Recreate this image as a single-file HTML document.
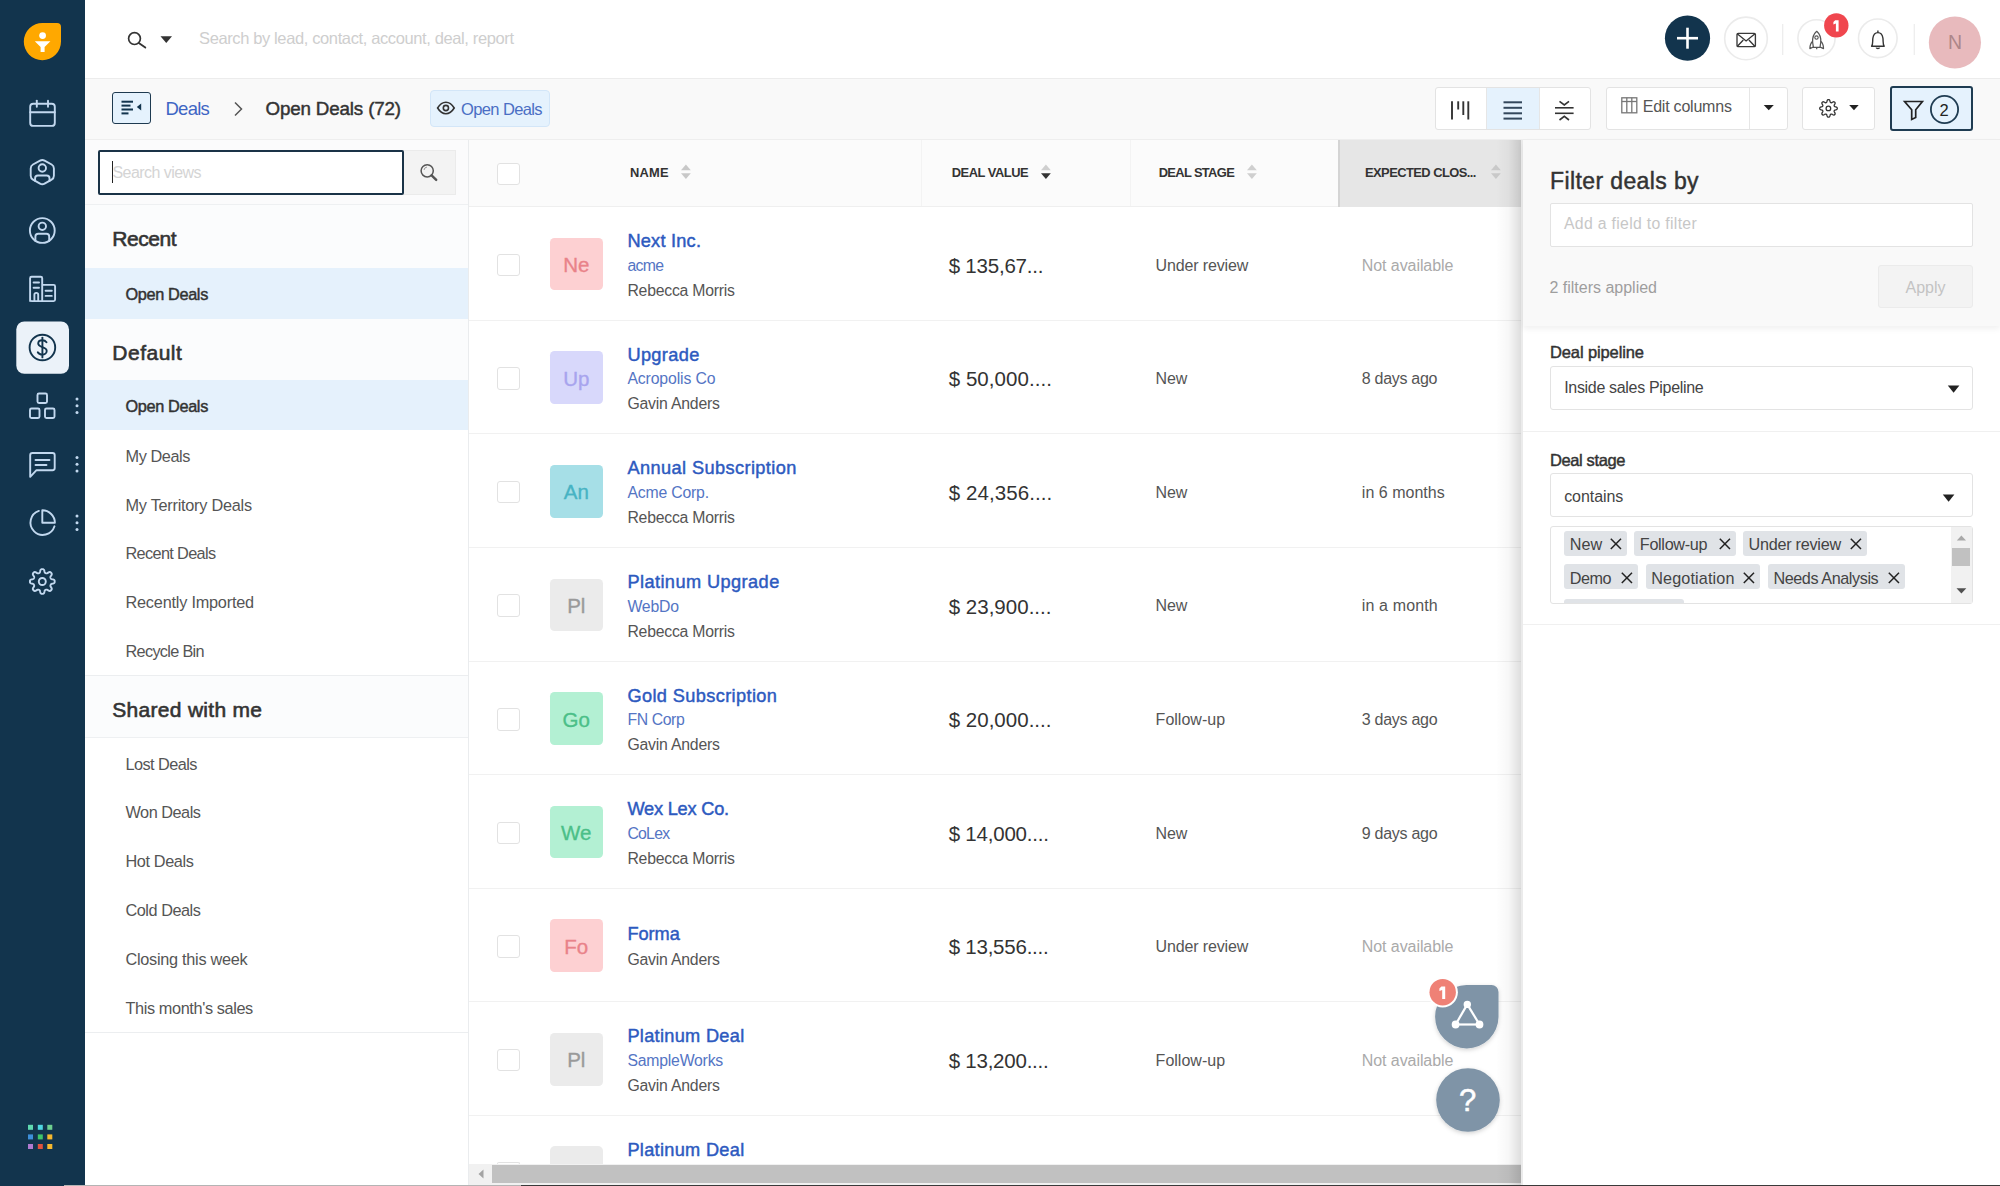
<!DOCTYPE html>
<html><head><meta charset="utf-8">
<style>
*{box-sizing:border-box;margin:0;padding:0}
html,body{width:2000px;height:1186px;overflow:hidden;background:#fff;font-family:"Liberation Sans",sans-serif;color:#333}
.a{position:absolute}
.nav{left:0;top:0;width:85px;height:1186px;background:#12344d}
.t{position:absolute;white-space:nowrap;line-height:1}
svg.a{overflow:visible}
</style></head><body>
<!-- LEFT NAV -->
<div class="a nav">
<svg width="85" height="1186" viewBox="0 0 85 1186" style="left:0;top:0">
 <!-- logo -->
 <path d="M42.7 23 H57 a4 4 0 0 1 4 4 V41.6 A18.6 18.6 0 1 1 42.7 23 Z" fill="#ffa800"/>
 <circle cx="42.6" cy="35.6" r="3.4" fill="#fff"/>
 <path d="M34.8 41.2 H50.4 L44.6 47 V52 H40.6 V47 Z" fill="#fff"/>
 <g fill="none" stroke="#c2d8ef" stroke-width="1.9" stroke-linecap="round" stroke-linejoin="round">
  <!-- calendar -->
  <rect x="30.2" y="103.7" width="24.6" height="22.2" rx="3"/>
  <line x1="30.2" y1="112.2" x2="54.8" y2="112.2"/>
  <line x1="36.8" y1="100.6" x2="36.8" y2="106.8"/>
  <line x1="48" y1="100.6" x2="48" y2="106.8"/>
  <!-- contact hexagon -->
  <path d="M40.03 160.57 Q42.30 159.30 44.57 160.57 L51.63 164.53 Q53.90 165.80 53.90 168.40 L53.90 175.80 Q53.90 178.40 51.63 179.67 L44.57 183.63 Q42.30 184.90 40.03 183.63 L32.97 179.67 Q30.70 178.40 30.70 175.80 L30.70 168.40 Q30.70 165.80 32.97 164.53 Z"/>
  <circle cx="42.3" cy="168" r="3.7"/>
  <path d="M35.1 180.9 V178.2 Q35.1 175.5 37.9 175.5 H46.7 Q49.5 175.5 49.5 178.2 V180.9"/>
  <!-- person circle -->
  <circle cx="42.3" cy="230.5" r="12.4"/>
  <circle cx="42.3" cy="226.3" r="3.7"/>
  <path d="M35.4 240.9 V236.6 Q35.4 233.8 38.2 233.8 H46.4 Q49.2 233.8 49.2 236.6 V240.9"/>
  <!-- building -->
  <path d="M30.1 301.1 V278.2 Q30.1 276.7 31.6 276.7 H40.7 Q42.2 276.7 42.2 278.2 V301.1 M42.2 284.9 H53.6 Q55.1 284.9 55.1 286.4 V299.6 Q55.1 301.1 53.6 301.1 H31.6 Q30.1 301.1 30.1 299.6"/>
  <line x1="33.6" y1="282.5" x2="39" y2="282.5"/>
  <line x1="33.6" y1="287.8" x2="39" y2="287.8"/>
  <path d="M34.4 301 V294.8 A1.9 1.9 0 0 1 38.2 294.8 V301"/>
  <line x1="45.6" y1="290.8" x2="51.8" y2="290.8"/>
  <line x1="45.6" y1="295.9" x2="51.8" y2="295.9"/>
 </g>
 <!-- active deals -->
 <rect x="16.3" y="321.4" width="52.7" height="52.4" rx="8" fill="#ebf2f9"/>
 <g fill="none" stroke="#12344d" stroke-width="1.9" stroke-linecap="round" stroke-linejoin="round">
  <circle cx="42.4" cy="347.5" r="12.8"/>
  <path d="M46.5 342.2 C45.5 340.8 44 340.3 42.3 340.3 C39.8 340.3 38.2 341.7 38.2 343.6 C38.2 348 46.7 346.3 46.7 351 C46.7 353.1 44.8 354.6 42.3 354.6 C40.3 354.6 38.6 353.8 37.8 352.3"/>
  <line x1="42.4" y1="337.6" x2="42.4" y2="357.4"/>
 </g>
 <g fill="none" stroke="#c2d8ef" stroke-width="1.9" stroke-linecap="round" stroke-linejoin="round">
  <!-- products -->
  <rect x="37.5" y="393.5" width="9.5" height="9.5" rx="1.5"/>
  <rect x="30" y="408.5" width="9.5" height="9.5" rx="1.5"/>
  <rect x="45" y="408.5" width="9.5" height="9.5" rx="1.5"/>
  <!-- chat -->
  <path d="M32.5 453 H52.5 a2.2 2.2 0 0 1 2.2 2.2 V468 a2.2 2.2 0 0 1 -2.2 2.2 H36.5 L30.2 476.8 V455.2 a2.2 2.2 0 0 1 2.2 -2.2 Z"/>
  <line x1="35.5" y1="460" x2="49.5" y2="460"/>
  <line x1="35.5" y1="465" x2="46.5" y2="465"/>
  <!-- pie -->
  <path d="M38.9 510.9 A12.3 12.3 0 1 0 54.5 526.3"/>
  <path d="M42.3 510.3 V522.8 H54.9 A12.6 12.6 0 0 0 42.3 510.3 Z"/>
  <!-- gear -->
  <circle cx="42.3" cy="581.5" r="3.5"/>
  <path d="M54.70 581.50 L54.67 581.99 L54.57 582.47 L54.33 582.92 L53.76 583.32 L52.79 583.59 L51.82 583.79 L51.24 584.02 L50.94 584.31 L50.76 584.62 L50.61 584.94 L50.49 585.28 L50.40 585.63 L50.41 586.04 L50.65 586.62 L51.20 587.44 L51.69 588.32 L51.81 589.00 L51.66 589.49 L51.39 589.91 L51.07 590.27 L50.71 590.59 L50.29 590.86 L49.80 591.01 L49.12 590.89 L48.24 590.40 L47.42 589.85 L46.84 589.61 L46.43 589.60 L46.08 589.69 L45.74 589.81 L45.42 589.96 L45.11 590.14 L44.82 590.44 L44.59 591.02 L44.39 591.99 L44.12 592.96 L43.72 593.53 L43.27 593.77 L42.79 593.87 L42.30 593.90 L41.81 593.87 L41.33 593.77 L40.88 593.53 L40.48 592.96 L40.21 591.99 L40.01 591.02 L39.78 590.44 L39.49 590.14 L39.18 589.96 L38.86 589.81 L38.52 589.69 L38.17 589.60 L37.76 589.61 L37.18 589.85 L36.36 590.40 L35.48 590.89 L34.80 591.01 L34.31 590.86 L33.89 590.59 L33.53 590.27 L33.21 589.91 L32.94 589.49 L32.79 589.00 L32.91 588.32 L33.40 587.44 L33.95 586.62 L34.19 586.04 L34.20 585.63 L34.11 585.28 L33.99 584.94 L33.84 584.62 L33.66 584.31 L33.36 584.02 L32.78 583.79 L31.81 583.59 L30.84 583.32 L30.27 582.92 L30.03 582.47 L29.93 581.99 L29.90 581.50 L29.93 581.01 L30.03 580.53 L30.27 580.08 L30.84 579.68 L31.81 579.41 L32.78 579.21 L33.36 578.98 L33.66 578.69 L33.84 578.38 L33.99 578.06 L34.11 577.72 L34.20 577.37 L34.19 576.96 L33.95 576.38 L33.40 575.56 L32.91 574.68 L32.79 574.00 L32.94 573.51 L33.21 573.09 L33.53 572.73 L33.89 572.41 L34.31 572.14 L34.80 571.99 L35.48 572.11 L36.36 572.60 L37.18 573.15 L37.76 573.39 L38.17 573.40 L38.52 573.31 L38.86 573.19 L39.18 573.04 L39.49 572.86 L39.78 572.56 L40.01 571.98 L40.21 571.01 L40.48 570.04 L40.88 569.47 L41.33 569.23 L41.81 569.13 L42.30 569.10 L42.79 569.13 L43.27 569.23 L43.72 569.47 L44.12 570.04 L44.39 571.01 L44.59 571.98 L44.82 572.56 L45.11 572.86 L45.42 573.04 L45.74 573.19 L46.08 573.31 L46.43 573.40 L46.84 573.39 L47.42 573.15 L48.24 572.60 L49.12 572.11 L49.80 571.99 L50.29 572.14 L50.71 572.41 L51.07 572.73 L51.39 573.09 L51.66 573.51 L51.81 574.00 L51.69 574.68 L51.20 575.56 L50.65 576.38 L50.41 576.96 L50.40 577.37 L50.49 577.72 L50.61 578.06 L50.76 578.38 L50.94 578.69 L51.24 578.98 L51.82 579.21 L52.79 579.41 L53.76 579.68 L54.33 580.08 L54.57 580.53 L54.67 581.01 Z"/>
 </g>
 <g fill="#c2d8ef">
  <circle cx="77" cy="399" r="1.5"/><circle cx="77" cy="405.7" r="1.5"/><circle cx="77" cy="412.4" r="1.5"/>
  <circle cx="77" cy="457.5" r="1.5"/><circle cx="77" cy="464.2" r="1.5"/><circle cx="77" cy="470.9" r="1.5"/>
  <circle cx="77" cy="516" r="1.5"/><circle cx="77" cy="522.7" r="1.5"/><circle cx="77" cy="529.4" r="1.5"/>
 </g>
 <!-- app grid -->
 <rect x="28" y="1124.8" width="5" height="5" fill="#5fd9b0"/>
 <rect x="37.8" y="1124.8" width="5" height="5" fill="#4fd6e0"/>
 <rect x="47.3" y="1124.8" width="5" height="5" fill="#6fcf8f"/>
 <rect x="28" y="1134.4" width="5" height="5" fill="#3d8fd9"/>
 <rect x="37.8" y="1134.4" width="5" height="5" fill="#3fc46a"/>
 <rect x="47.3" y="1134.4" width="5" height="5" fill="#f5b82e"/>
 <rect x="28" y="1144" width="5" height="5" fill="#b07ad0"/>
 <rect x="37.8" y="1144" width="5" height="5" fill="#e0523e"/>
 <rect x="47.3" y="1144" width="5" height="5" fill="#f5b82e"/>
</svg>
</div>

<div class="a" style="left:85px;top:0px;width:1915px;height:79px;background:#fff;border-bottom:1.5px solid #ececec"></div>
<svg class="a" style="left:120px;top:25px;" width="60" height="30" viewBox="0 0 60 30">
      <circle cx="14.5" cy="13.6" r="5.9" fill="none" stroke="#333" stroke-width="1.7"/>
      <line x1="18.8" y1="17.9" x2="25.3" y2="22.6" stroke="#333" stroke-width="1.8" stroke-linecap="round"/>
      <path d="M40.5 11.2 H52 L46.25 18 Z" fill="#333"/></svg>
<div class="t" style="left:199.0px;top:30.0px;font-size:16.5px;color:#cecece;font-weight:400;letter-spacing:-0.379px;">Search by lead, contact, account, deal, report</div>
<svg class="a" style="left:1660px;top:10px;" width="340" height="62" viewBox="0 0 340 62">
      <circle cx="27.5" cy="28.2" r="22.6" fill="#12344d"/>
      <line x1="17" y1="28.2" x2="38" y2="28.2" stroke="#fff" stroke-width="2.6"/>
      <line x1="27.5" y1="17.7" x2="27.5" y2="38.7" stroke="#fff" stroke-width="2.6"/>
      <circle cx="86" cy="28.4" r="21.3" fill="#fff" stroke="#ebebeb" stroke-width="1.6"/>
      <rect x="77" y="23.3" width="18.4" height="13.4" rx="1.2" fill="none" stroke="#3a3a3a" stroke-width="1.35"/>
      <path d="M77.2 23.8 L86.1 31 L95 23.8 M77.4 36.3 L83.3 30 M94.8 36.3 L88.9 30" fill="none" stroke="#333" stroke-width="1.3"/>
      <line x1="122.7" y1="14" x2="122.7" y2="45" stroke="#ececec" stroke-width="1.2"/>
      <circle cx="156.5" cy="28.3" r="18.6" fill="#fff" stroke="#ebebeb" stroke-width="1.6"/>
      <path d="M156.7 21.3 C153.6 24 152.4 28 152.6 32 L153.4 37.4 H160 L160.8 32 C161 28 159.8 24 156.7 21.3 Z" fill="none" stroke="#555" stroke-width="1.25" stroke-linejoin="round"/>
      <path d="M152.8 31.2 C150.6 32.8 149.9 35 149.9 38.6 L153.4 37 M160.6 31.2 C162.8 32.8 163.5 35 163.5 38.6 L160 37 M156.7 37.4 V39.2" fill="none" stroke="#555" stroke-width="1.25" stroke-linejoin="round"/>
      <circle cx="156.5" cy="27.6" r="1.7" fill="none" stroke="#555" stroke-width="1.1"/>
      <circle cx="176.3" cy="15.4" r="12.2" fill="#f0464e"/>
      <line x1="217.8" y1="14" x2="217.8" y2="45" stroke="#fff" stroke-width="0"/>
      <circle cx="217.8" cy="28.3" r="19.3" fill="#fff" stroke="#ebebeb" stroke-width="1.6"/>
      <path d="M211.6 36.2 C213.2 34.3 212.4 31 212.9 28 C213.4 24.4 215.2 22.6 217.9 22.6 C220.6 22.6 222.4 24.4 222.9 28 C223.4 31 222.6 34.3 224.2 36.2 Z" fill="none" stroke="#333" stroke-width="1.4" stroke-linejoin="round"/>
      <line x1="217.9" y1="20.6" x2="217.9" y2="22.6" stroke="#333" stroke-width="1.4"/>
      <path d="M216.2 37.6 C216.6 38.8 219.2 38.8 219.6 37.6" fill="none" stroke="#333" stroke-width="1.4"/>
      <line x1="254.3" y1="14" x2="254.3" y2="45" stroke="#ececec" stroke-width="1.2"/>
      <circle cx="294.9" cy="32.5" r="26.1" fill="#e8babd"/></svg>
<svg class="a" style="left:1830px;top:17px;" width="14" height="18" viewBox="0 0 14 18"><path d="M5.2 3.2 H8.6 V14.6 H5.9 V6.4 L3.4 7.4 V5 Z" fill="#fff"/></svg>
<div class="t" style="left:1935px;width:40px;text-align:center;top:32.7px;font-size:19.5px;color:#ad8689">N</div>
<div class="a" style="left:85px;top:79px;width:1915px;height:61px;background:#f9f9f9"></div>
<div class="a" style="left:112px;top:92px;width:39px;height:32px;background:#e5f2fd;border:1.5px solid #1e3a50;border-radius:3px"></div>
<svg class="a" style="left:112px;top:92px;" width="39" height="32" viewBox="0 0 39 32">
      <rect x="9.5" y="8.7" width="11.5" height="2" fill="#12344d"/>
      <rect x="9.5" y="12.6" width="9" height="2" fill="#12344d"/>
      <rect x="9.5" y="16.5" width="11.5" height="2" fill="#12344d"/>
      <rect x="9.5" y="20.4" width="7" height="2" fill="#12344d"/>
      <path d="M29.2 11.5 V18.6 L24.8 15.05 Z" fill="#12344d"/></svg>
<div class="t" style="left:165.5px;top:100.3px;font-size:18.5px;color:#3f66c4;font-weight:400;letter-spacing:-0.760px;">Deals</div>
<svg class="a" style="left:230px;top:100px;" width="16" height="18" viewBox="0 0 16 18"><path d="M5 2.5 L11.5 9 L5 15.5" fill="none" stroke="#555" stroke-width="1.5"/></svg>
<div class="t" style="left:265.5px;top:100.1px;font-size:18.8px;color:#333;font-weight:400;letter-spacing:-0.161px;-webkit-text-stroke:0.45px #333;">Open Deals (72)</div>
<div class="a" style="left:430px;top:89.5px;width:120px;height:37.5px;background:#e5f2fd;border:1px solid #d3e6f8;border-radius:4px"></div>
<svg class="a" style="left:436px;top:100px;" width="20" height="16" viewBox="0 0 20 16">
      <path d="M1.6 8 C4.3 3.6 7 2.3 9.9 2.3 C12.8 2.3 15.5 3.6 18.2 8 C15.5 12.4 12.8 13.7 9.9 13.7 C7 13.7 4.3 12.4 1.6 8 Z" fill="none" stroke="#333" stroke-width="1.6"/>
      <circle cx="9.9" cy="8" r="2.6" fill="none" stroke="#333" stroke-width="1.6"/></svg>
<div class="t" style="left:461.0px;top:101.0px;font-size:16.5px;color:#4a6ec4;font-weight:400;letter-spacing:-0.613px;">Open Deals</div>
<div class="a" style="left:1435px;top:86.7px;width:155.5px;height:43.5px;background:#fff;border:1px solid #e3e3e3;border-radius:3px"></div>
<div class="a" style="left:1486px;top:87.7px;width:53.5px;height:41.5px;background:#e5f2fd;border-left:1px solid #e6e6e6;border-right:1px solid #e6e6e6"></div>
<svg class="a" style="left:1435px;top:86.7px;" width="156" height="44" viewBox="0 0 156 44">
      <g stroke="#333" stroke-width="1.9" stroke-linecap="butt">
      <line x1="17" y1="14.3" x2="17" y2="32.5"/>
      <line x1="23.2" y1="14.3" x2="23.2" y2="22.5"/>
      <line x1="28.3" y1="14.3" x2="28.3" y2="28"/>
      <line x1="33.3" y1="14.3" x2="33.3" y2="32.5"/></g>
      <g stroke="#33475b" stroke-width="2">
      <line x1="68.5" y1="15.3" x2="87" y2="15.3"/>
      <line x1="68.5" y1="20.8" x2="87" y2="20.8"/>
      <line x1="68.5" y1="26.3" x2="87" y2="26.3"/>
      <line x1="68.5" y1="31.6" x2="87" y2="31.6"/></g>
      <g stroke="#333" stroke-width="1.6" fill="none">
      <line x1="120" y1="20.8" x2="138.6" y2="20.8"/>
      <line x1="120" y1="26.3" x2="138.6" y2="26.3"/>
      <path d="M124.5 14.3 L129.3 18 L134 14.3"/>
      <path d="M124.5 33 L129.3 29.3 L134 33"/></g></svg>
<div class="a" style="left:1605.5px;top:86.7px;width:182px;height:43.5px;background:#fff;border:1px solid #e3e3e3;border-radius:3px"></div>
<div class="a" style="left:1749px;top:87.7px;width:1px;height:41.5px;background:#e6e6e6"></div>
<svg class="a" style="left:1620px;top:96px;" width="20" height="20" viewBox="0 0 20 20"><g fill="none" stroke="#777" stroke-width="1.3">
      <rect x="1.8" y="1.8" width="15" height="15"/>
      <line x1="1.8" y1="5.5" x2="16.8" y2="5.5"/>
      <line x1="6.8" y1="1.8" x2="6.8" y2="16.8"/>
      <line x1="11.8" y1="1.8" x2="11.8" y2="16.8"/></g></svg>
<div class="t" style="left:1642.7px;top:99.3px;font-size:16px;color:#555;font-weight:400;letter-spacing:-0.216px;">Edit columns</div>
<svg class="a" style="left:1760px;top:100px;" width="20" height="14" viewBox="0 0 20 14"><path d="M3.7 5 H13.8 L8.75 10.2 Z" fill="#222"/></svg>
<div class="a" style="left:1802.4px;top:86.7px;width:73px;height:43.5px;background:#fff;border:1px solid #e3e3e3;border-radius:3px"></div>
<svg class="a" style="left:1816px;top:96px;" width="50" height="26" viewBox="0 0 50 26">
      <g fill="none" stroke="#333" stroke-width="1.3" stroke-linejoin="round">
      <circle cx="12.4" cy="12.4" r="2.3"/>
      <path d="M21.30 12.40 L21.24 12.86 L21.01 13.29 L20.48 13.66 L19.64 13.92 L18.91 14.12 L18.51 14.35 L18.30 14.63 L18.17 14.93 L18.13 15.27 L18.25 15.72 L18.62 16.37 L19.03 17.15 L19.15 17.79 L19.00 18.26 L18.72 18.62 L18.36 18.90 L17.89 19.05 L17.25 18.93 L16.47 18.52 L15.82 18.15 L15.37 18.03 L15.03 18.07 L14.73 18.20 L14.45 18.41 L14.22 18.81 L14.02 19.54 L13.76 20.38 L13.39 20.91 L12.96 21.14 L12.50 21.20 L12.04 21.14 L11.61 20.91 L11.24 20.38 L10.98 19.54 L10.78 18.81 L10.55 18.41 L10.27 18.20 L9.97 18.07 L9.63 18.03 L9.18 18.15 L8.53 18.52 L7.75 18.93 L7.11 19.05 L6.64 18.90 L6.28 18.62 L6.00 18.26 L5.85 17.79 L5.97 17.15 L6.38 16.37 L6.75 15.72 L6.87 15.27 L6.83 14.93 L6.70 14.63 L6.49 14.35 L6.09 14.12 L5.36 13.92 L4.52 13.66 L3.99 13.29 L3.76 12.86 L3.70 12.40 L3.76 11.94 L3.99 11.51 L4.52 11.14 L5.36 10.88 L6.09 10.68 L6.49 10.45 L6.70 10.17 L6.83 9.87 L6.87 9.53 L6.75 9.08 L6.38 8.43 L5.97 7.65 L5.85 7.01 L6.00 6.54 L6.28 6.18 L6.64 5.90 L7.11 5.75 L7.75 5.87 L8.53 6.28 L9.18 6.65 L9.63 6.77 L9.97 6.73 L10.27 6.60 L10.55 6.39 L10.78 5.99 L10.98 5.26 L11.24 4.42 L11.61 3.89 L12.04 3.66 L12.50 3.60 L12.96 3.66 L13.39 3.89 L13.76 4.42 L14.02 5.26 L14.22 5.99 L14.45 6.39 L14.73 6.60 L15.03 6.73 L15.37 6.77 L15.82 6.65 L16.47 6.28 L17.25 5.87 L17.89 5.75 L18.36 5.90 L18.72 6.18 L19.00 6.54 L19.15 7.01 L19.03 7.65 L18.62 8.43 L18.25 9.08 L18.13 9.53 L18.17 9.87 L18.30 10.17 L18.51 10.45 L18.91 10.68 L19.64 10.88 L20.48 11.14 L21.01 11.51 L21.24 11.94 Z"/></g>
      <path d="M33.2 9 H42.7 L37.95 14.2 Z" fill="#222"/></svg>
<div class="a" style="left:1890.2px;top:86.2px;width:82.5px;height:44.6px;background:#e5f2fd;border:2px solid #1f3c52;border-radius:3px"></div>
<svg class="a" style="left:1890px;top:86px;" width="84" height="46" viewBox="0 0 84 46">
      <path d="M14.6 15.5 H32.4 L25.7 23.8 V31.4 L21.7 33.4 V23.8 Z" fill="none" stroke="#222" stroke-width="1.7" stroke-linejoin="miter"/>
      <circle cx="54.5" cy="23.5" r="13.6" fill="none" stroke="#1f3c52" stroke-width="1.8"/></svg>
<div class="t" style="left:1939.5px;top:101.5px;font-size:16.5px;color:#222;font-weight:400;">2</div>
<div class="a" style="left:85px;top:138.5px;width:1915px;height:1.5px;background:#eeeeee"></div>
<div class="a" style="left:85px;top:140px;width:384px;height:1046px;background:#fff;border-right:1px solid #eaecee"></div>
<div class="a" style="left:85px;top:140px;width:383px;height:65px;background:#fbfbfc;border-bottom:1px solid #eef0f2"></div>
<div class="a" style="left:403px;top:150px;width:53px;height:44.5px;background:#f3f3f3;border:1px solid #ebebeb;border-left:0"></div>
<div class="a" style="left:98px;top:150px;width:305.5px;height:44.5px;background:#fff;border:2px solid #1a3347;border-radius:2px"></div>
<div class="a" style="left:111.6px;top:161px;width:1.2px;height:22px;background:#222"></div>
<div class="t" style="left:112.5px;top:165.0px;font-size:16px;color:#d4d4d4;font-weight:400;letter-spacing:-0.554px;">Search views</div>
<svg class="a" style="left:416px;top:160px;" width="26" height="26" viewBox="0 0 26 26">
      <circle cx="11.2" cy="10.8" r="6.1" fill="none" stroke="#555" stroke-width="1.5"/>
      <path d="M8 10 A3.5 3.5 0 0 1 11 7" fill="none" stroke="#999" stroke-width="1"/>
      <line x1="15.6" y1="15.3" x2="20.2" y2="19.9" stroke="#555" stroke-width="2.4" stroke-linecap="round"/></svg>
<div class="a" style="left:85px;top:205px;width:383px;height:63px;background:#fbfcfd"></div>
<div class="t" style="left:112.3px;top:228.2px;font-size:21px;color:#333;font-weight:400;letter-spacing:-0.456px;-webkit-text-stroke:0.45px #333;-webkit-text-stroke-width:0.6px;">Recent</div>
<div class="a" style="left:85px;top:268px;width:383px;height:50.5px;background:#e5f1fc"></div>
<div class="t" style="left:125.5px;top:285.7px;font-size:16.3px;color:#333;font-weight:400;letter-spacing:-0.356px;-webkit-text-stroke:0.45px #333;">Open Deals</div>
<div class="a" style="left:85px;top:318.5px;width:383px;height:61.69999999999999px;background:#fbfcfd"></div>
<div class="t" style="left:112.3px;top:341.7px;font-size:21px;color:#333;font-weight:400;letter-spacing:0.495px;-webkit-text-stroke:0.45px #333;-webkit-text-stroke-width:0.6px;">Default</div>
<div class="a" style="left:85px;top:380.2px;width:383px;height:49.6px;background:#e5f1fc"></div>
<div class="t" style="left:125.5px;top:397.9px;font-size:16.3px;color:#333;font-weight:400;letter-spacing:-0.356px;-webkit-text-stroke:0.45px #333;">Open Deals</div>
<div class="t" style="left:125.5px;top:447.8px;font-size:16.3px;color:#555;font-weight:400;letter-spacing:-0.427px;">My Deals</div>
<div class="t" style="left:125.5px;top:496.6px;font-size:16.3px;color:#555;font-weight:400;letter-spacing:-0.256px;">My Territory Deals</div>
<div class="t" style="left:125.5px;top:545.4px;font-size:16.3px;color:#555;font-weight:400;letter-spacing:-0.652px;">Recent Deals</div>
<div class="t" style="left:125.5px;top:594.2px;font-size:16.3px;color:#555;font-weight:400;letter-spacing:-0.220px;">Recently Imported</div>
<div class="t" style="left:125.5px;top:643.0px;font-size:16.3px;color:#555;font-weight:400;letter-spacing:-0.686px;">Recycle Bin</div>
<div class="a" style="left:85px;top:674.5px;width:383px;height:1px;background:#eceef0"></div>
<div class="a" style="left:85px;top:675.5px;width:383px;height:62.10000000000002px;background:#fbfcfd"></div>
<div class="t" style="left:112.3px;top:698.7px;font-size:21px;color:#333;font-weight:400;letter-spacing:0.293px;-webkit-text-stroke:0.45px #333;-webkit-text-stroke-width:0.6px;">Shared with me</div>
<div class="t" style="left:125.5px;top:755.6px;font-size:16.3px;color:#555;font-weight:400;letter-spacing:-0.550px;">Lost Deals</div>
<div class="t" style="left:125.5px;top:804.4px;font-size:16.3px;color:#555;font-weight:400;letter-spacing:-0.490px;">Won Deals</div>
<div class="t" style="left:125.5px;top:853.2px;font-size:16.3px;color:#555;font-weight:400;letter-spacing:-0.395px;">Hot Deals</div>
<div class="t" style="left:125.5px;top:902.0px;font-size:16.3px;color:#555;font-weight:400;letter-spacing:-0.471px;">Cold Deals</div>
<div class="t" style="left:125.5px;top:950.8px;font-size:16.3px;color:#555;font-weight:400;letter-spacing:-0.283px;">Closing this week</div>
<div class="t" style="left:125.5px;top:999.6px;font-size:16.3px;color:#555;font-weight:400;letter-spacing:-0.386px;">This month's sales</div>
<div class="a" style="left:85px;top:1032px;width:383px;height:1px;background:#eceef0"></div>
<div class="a" style="left:85px;top:737px;width:383px;height:1px;background:#eef0f2"></div>
<div class="a" style="left:469px;top:140px;width:1052px;height:1046px;background:#fff"></div>
<div class="a" style="left:469px;top:140px;width:1052px;height:67px;background:#fbfbfb"></div>
<div class="a" style="left:469px;top:205.5px;width:1052px;height:1.5px;background:#efefef"></div>
<div class="a" style="left:920.5px;top:140px;width:1px;height:66px;background:#f3f3f3"></div>
<div class="a" style="left:1129.5px;top:140px;width:1px;height:66px;background:#f3f3f3"></div>
<div class="a" style="left:1338px;top:140px;width:183px;height:66.5px;background:#e6e6e6;border-left:2px solid #d4d4d4"></div>
<div class="a" style="left:497.2px;top:162.8px;width:22.5px;height:22.5px;background:#fff;border:1.5px solid #e2e2e2;border-radius:3px"></div>
<div class="t" style="left:630.0px;top:167.1px;font-size:12.9px;color:#333;font-weight:700;letter-spacing:0.200px;">NAME</div>
<div class="t" style="left:951.7px;top:167.1px;font-size:12.9px;color:#333;font-weight:700;letter-spacing:-0.467px;">DEAL VALUE</div>
<div class="t" style="left:1158.7px;top:167.1px;font-size:12.9px;color:#333;font-weight:700;letter-spacing:-0.649px;">DEAL STAGE</div>
<div class="t" style="left:1365.0px;top:167.1px;font-size:12.9px;color:#333;font-weight:700;letter-spacing:-0.548px;">EXPECTED CLOS...</div>
<svg class="a" style="left:680px;top:163px;" width="12" height="18" viewBox="0 0 12 18"><path d="M1 7.2 L5.9 1.6 L10.8 7.2 Z" fill="#c8c8c8"/><path d="M1 10.3 L5.9 15.9 L10.8 10.3 Z" fill="#c8c8c8"/></svg>
<svg class="a" style="left:1040px;top:163px;" width="12" height="18" viewBox="0 0 12 18"><path d="M1 7.2 L5.9 1.6 L10.8 7.2 Z" fill="#cfcfcf"/><path d="M1 10.3 L5.9 15.9 L10.8 10.3 Z" fill="#333"/></svg>
<svg class="a" style="left:1245.6px;top:163px;" width="12" height="18" viewBox="0 0 12 18"><path d="M1 7.2 L5.9 1.6 L10.8 7.2 Z" fill="#cfcfcf"/><path d="M1 10.3 L5.9 15.9 L10.8 10.3 Z" fill="#cfcfcf"/></svg>
<svg class="a" style="left:1489.5px;top:163px;" width="12" height="18" viewBox="0 0 12 18"><path d="M1 7.2 L5.9 1.6 L10.8 7.2 Z" fill="#c9c9c9"/><path d="M1 10.3 L5.9 15.9 L10.8 10.3 Z" fill="#c9c9c9"/></svg>
<div class="a" style="left:469px;top:320px;width:1052px;height:1px;background:#f1f1f1"></div>
<div class="a" style="left:497.2px;top:253.60000000000002px;width:22.5px;height:22.5px;background:#fff;border:1.5px solid #e2e2e2;border-radius:3px"></div>
<div class="a" style="left:550px;top:237.8px;width:52.5px;height:52.5px;background:#fdd0d2;border-radius:4.5px"></div>
<div class="t" style="left:550px;width:52.5px;text-align:center;top:255.2px;font-size:20.5px;color:#e98289;-webkit-text-stroke:0.35px #e98289">Ne</div>
<div class="t" style="left:627.4px;top:232.2px;font-size:18.2px;color:#2d5abf;font-weight:400;letter-spacing:0.230px;-webkit-text-stroke:0.45px #2d5abf;">Next Inc.</div>
<div class="t" style="left:627.4px;top:257.7px;font-size:15.8px;color:#5475c4;font-weight:400;letter-spacing:-0.657px;">acme</div>
<div class="t" style="left:627.4px;top:282.7px;font-size:15.8px;color:#555;font-weight:400;letter-spacing:-0.229px;">Rebecca Morris</div>
<div class="t" style="left:948.7px;top:255.7px;font-size:20.5px;color:#333;font-weight:400;letter-spacing:-0.217px;">$ 135,67...</div>
<div class="t" style="left:1155.6px;top:257.6px;font-size:16px;color:#555;font-weight:400;letter-spacing:-0.146px;">Under review</div>
<div class="t" style="left:1361.8px;top:257.6px;font-size:16px;color:#aaa;font-weight:400;letter-spacing:-0.077px;">Not available</div>
<div class="a" style="left:469px;top:433px;width:1052px;height:1px;background:#f1f1f1"></div>
<div class="a" style="left:497.2px;top:367.2px;width:22.5px;height:22.5px;background:#fff;border:1.5px solid #e2e2e2;border-radius:3px"></div>
<div class="a" style="left:550px;top:351.4px;width:52.5px;height:52.5px;background:#d8d8fb;border-radius:4.5px"></div>
<div class="t" style="left:550px;width:52.5px;text-align:center;top:368.8px;font-size:20.5px;color:#a8a4ee;-webkit-text-stroke:0.35px #a8a4ee">Up</div>
<div class="t" style="left:627.4px;top:345.8px;font-size:18.2px;color:#2d5abf;font-weight:400;letter-spacing:0.353px;-webkit-text-stroke:0.45px #2d5abf;">Upgrade</div>
<div class="t" style="left:627.4px;top:371.3px;font-size:15.8px;color:#5475c4;font-weight:400;letter-spacing:-0.129px;">Acropolis Co</div>
<div class="t" style="left:627.4px;top:396.3px;font-size:15.8px;color:#555;font-weight:400;letter-spacing:-0.211px;">Gavin Anders</div>
<div class="t" style="left:948.7px;top:369.3px;font-size:20.5px;color:#333;font-weight:400;letter-spacing:0.060px;">$ 50,000....</div>
<div class="t" style="left:1155.6px;top:371.2px;font-size:16px;color:#555;font-weight:400;letter-spacing:-0.169px;">New</div>
<div class="t" style="left:1361.8px;top:371.2px;font-size:16px;color:#555;font-weight:400;letter-spacing:-0.298px;">8 days ago</div>
<div class="a" style="left:469px;top:547px;width:1052px;height:1px;background:#f1f1f1"></div>
<div class="a" style="left:497.2px;top:480.8px;width:22.5px;height:22.5px;background:#fff;border:1.5px solid #e2e2e2;border-radius:3px"></div>
<div class="a" style="left:550px;top:465.0px;width:52.5px;height:52.5px;background:#a6dfe7;border-radius:4.5px"></div>
<div class="t" style="left:550px;width:52.5px;text-align:center;top:482.4px;font-size:20.5px;color:#47b3c3;-webkit-text-stroke:0.35px #47b3c3">An</div>
<div class="t" style="left:627.4px;top:459.4px;font-size:18.2px;color:#2d5abf;font-weight:400;letter-spacing:0.400px;-webkit-text-stroke:0.45px #2d5abf;">Annual Subscription</div>
<div class="t" style="left:627.4px;top:484.9px;font-size:15.8px;color:#5475c4;font-weight:400;letter-spacing:-0.190px;">Acme Corp.</div>
<div class="t" style="left:627.4px;top:509.9px;font-size:15.8px;color:#555;font-weight:400;letter-spacing:-0.229px;">Rebecca Morris</div>
<div class="t" style="left:948.7px;top:482.9px;font-size:20.5px;color:#333;font-weight:400;letter-spacing:0.085px;">$ 24,356....</div>
<div class="t" style="left:1155.6px;top:484.8px;font-size:16px;color:#555;font-weight:400;letter-spacing:-0.169px;">New</div>
<div class="t" style="left:1361.8px;top:484.8px;font-size:16px;color:#555;font-weight:400;letter-spacing:0.026px;">in 6 months</div>
<div class="a" style="left:469px;top:661px;width:1052px;height:1px;background:#f1f1f1"></div>
<div class="a" style="left:497.2px;top:594.3999999999999px;width:22.5px;height:22.5px;background:#fff;border:1.5px solid #e2e2e2;border-radius:3px"></div>
<div class="a" style="left:550px;top:578.5999999999999px;width:52.5px;height:52.5px;background:#ebebeb;border-radius:4.5px"></div>
<div class="t" style="left:550px;width:52.5px;text-align:center;top:596.0px;font-size:20.5px;color:#9a9a9a;-webkit-text-stroke:0.35px #9a9a9a">Pl</div>
<div class="t" style="left:627.4px;top:573.0px;font-size:18.2px;color:#2d5abf;font-weight:400;letter-spacing:0.418px;-webkit-text-stroke:0.45px #2d5abf;">Platinum Upgrade</div>
<div class="t" style="left:627.4px;top:598.5px;font-size:15.8px;color:#5475c4;font-weight:400;letter-spacing:-0.158px;">WebDo</div>
<div class="t" style="left:627.4px;top:623.5px;font-size:15.8px;color:#555;font-weight:400;letter-spacing:-0.229px;">Rebecca Morris</div>
<div class="t" style="left:948.7px;top:596.5px;font-size:20.5px;color:#333;font-weight:400;letter-spacing:0.018px;">$ 23,900....</div>
<div class="t" style="left:1155.6px;top:598.4px;font-size:16px;color:#555;font-weight:400;letter-spacing:-0.169px;">New</div>
<div class="t" style="left:1361.8px;top:598.4px;font-size:16px;color:#555;font-weight:400;letter-spacing:0.129px;">in a month</div>
<div class="a" style="left:469px;top:774px;width:1052px;height:1px;background:#f1f1f1"></div>
<div class="a" style="left:497.2px;top:708.0px;width:22.5px;height:22.5px;background:#fff;border:1.5px solid #e2e2e2;border-radius:3px"></div>
<div class="a" style="left:550px;top:692.2px;width:52.5px;height:52.5px;background:#b3f0d3;border-radius:4.5px"></div>
<div class="t" style="left:550px;width:52.5px;text-align:center;top:709.6px;font-size:20.5px;color:#4bbf88;-webkit-text-stroke:0.35px #4bbf88">Go</div>
<div class="t" style="left:627.4px;top:686.6px;font-size:18.2px;color:#2d5abf;font-weight:400;letter-spacing:0.372px;-webkit-text-stroke:0.45px #2d5abf;">Gold Subscription</div>
<div class="t" style="left:627.4px;top:712.1px;font-size:15.8px;color:#5475c4;font-weight:400;letter-spacing:-0.384px;">FN Corp</div>
<div class="t" style="left:627.4px;top:737.1px;font-size:15.8px;color:#555;font-weight:400;letter-spacing:-0.211px;">Gavin Anders</div>
<div class="t" style="left:948.7px;top:710.1px;font-size:20.5px;color:#333;font-weight:400;letter-spacing:0.018px;">$ 20,000....</div>
<div class="t" style="left:1155.6px;top:712.0px;font-size:16px;color:#555;font-weight:400;letter-spacing:0.016px;">Follow-up</div>
<div class="t" style="left:1361.8px;top:712.0px;font-size:16px;color:#555;font-weight:400;letter-spacing:-0.278px;">3 days ago</div>
<div class="a" style="left:469px;top:888px;width:1052px;height:1px;background:#f1f1f1"></div>
<div class="a" style="left:497.2px;top:821.5999999999999px;width:22.5px;height:22.5px;background:#fff;border:1.5px solid #e2e2e2;border-radius:3px"></div>
<div class="a" style="left:550px;top:805.8px;width:52.5px;height:52.5px;background:#b3f0d3;border-radius:4.5px"></div>
<div class="t" style="left:550px;width:52.5px;text-align:center;top:823.2px;font-size:20.5px;color:#4bbf88;-webkit-text-stroke:0.35px #4bbf88">We</div>
<div class="t" style="left:627.4px;top:800.2px;font-size:18.2px;color:#2d5abf;font-weight:400;letter-spacing:-0.206px;-webkit-text-stroke:0.45px #2d5abf;">Wex Lex Co.</div>
<div class="t" style="left:627.4px;top:825.7px;font-size:15.8px;color:#5475c4;font-weight:400;letter-spacing:-0.733px;">CoLex</div>
<div class="t" style="left:627.4px;top:850.7px;font-size:15.8px;color:#555;font-weight:400;letter-spacing:-0.229px;">Rebecca Morris</div>
<div class="t" style="left:948.7px;top:823.7px;font-size:20.5px;color:#333;font-weight:400;letter-spacing:-0.215px;">$ 14,000....</div>
<div class="t" style="left:1155.6px;top:825.6px;font-size:16px;color:#555;font-weight:400;letter-spacing:-0.169px;">New</div>
<div class="t" style="left:1361.8px;top:825.6px;font-size:16px;color:#555;font-weight:400;letter-spacing:-0.278px;">9 days ago</div>
<div class="a" style="left:469px;top:1001px;width:1052px;height:1px;background:#f1f1f1"></div>
<div class="a" style="left:497.2px;top:935.1999999999998px;width:22.5px;height:22.5px;background:#fff;border:1.5px solid #e2e2e2;border-radius:3px"></div>
<div class="a" style="left:550px;top:919.3999999999999px;width:52.5px;height:52.5px;background:#fdd0d2;border-radius:4.5px"></div>
<div class="t" style="left:550px;width:52.5px;text-align:center;top:936.8px;font-size:20.5px;color:#e98289;-webkit-text-stroke:0.35px #e98289">Fo</div>
<div class="t" style="left:627.4px;top:925.3px;font-size:18.2px;color:#2d5abf;font-weight:400;letter-spacing:-0.038px;-webkit-text-stroke:0.45px #2d5abf;">Forma</div>
<div class="t" style="left:627.4px;top:951.6px;font-size:15.8px;color:#555;font-weight:400;letter-spacing:-0.211px;">Gavin Anders</div>
<div class="t" style="left:948.7px;top:937.3px;font-size:20.5px;color:#333;font-weight:400;letter-spacing:-0.232px;">$ 13,556....</div>
<div class="t" style="left:1155.6px;top:939.2px;font-size:16px;color:#555;font-weight:400;letter-spacing:-0.146px;">Under review</div>
<div class="t" style="left:1361.8px;top:939.2px;font-size:16px;color:#aaa;font-weight:400;letter-spacing:-0.077px;">Not available</div>
<div class="a" style="left:469px;top:1115px;width:1052px;height:1px;background:#f1f1f1"></div>
<div class="a" style="left:497.2px;top:1048.8px;width:22.5px;height:22.5px;background:#fff;border:1.5px solid #e2e2e2;border-radius:3px"></div>
<div class="a" style="left:550px;top:1033.0px;width:52.5px;height:52.5px;background:#ebebeb;border-radius:4.5px"></div>
<div class="t" style="left:550px;width:52.5px;text-align:center;top:1050.4px;font-size:20.5px;color:#9a9a9a;-webkit-text-stroke:0.35px #9a9a9a">Pl</div>
<div class="t" style="left:627.4px;top:1027.4px;font-size:18.2px;color:#2d5abf;font-weight:400;letter-spacing:0.299px;-webkit-text-stroke:0.45px #2d5abf;">Platinum Deal</div>
<div class="t" style="left:627.4px;top:1052.9px;font-size:15.8px;color:#5475c4;font-weight:400;letter-spacing:-0.221px;">SampleWorks</div>
<div class="t" style="left:627.4px;top:1077.9px;font-size:15.8px;color:#555;font-weight:400;letter-spacing:-0.211px;">Gavin Anders</div>
<div class="t" style="left:948.7px;top:1050.9px;font-size:20.5px;color:#333;font-weight:400;letter-spacing:-0.232px;">$ 13,200....</div>
<div class="t" style="left:1155.6px;top:1052.8px;font-size:16px;color:#555;font-weight:400;letter-spacing:0.016px;">Follow-up</div>
<div class="t" style="left:1361.8px;top:1052.8px;font-size:16px;color:#aaa;font-weight:400;letter-spacing:-0.077px;">Not available</div>
<div class="a" style="left:497.2px;top:1161.5px;width:22.5px;height:2.5px;background:#fff;border:1.5px solid #e2e2e2;border-bottom:0;border-radius:3px 3px 0 0"></div>
<div class="a" style="left:550px;top:1145.5px;width:52.5px;height:18.5px;background:#ebebeb;border-radius:5px 5px 0 0"></div>
<div class="t" style="left:627.4px;top:1141.1px;font-size:18.2px;color:#2d5abf;font-weight:400;letter-spacing:0.299px;-webkit-text-stroke:0.45px #2d5abf;">Platinum Deal</div>
<div class="a" style="left:469px;top:1163.5px;width:1052px;height:21px;background:#f1f1f1"></div>
<div class="a" style="left:492px;top:1164.5px;width:1029px;height:18.5px;background:#c1c1c1"></div>
<svg class="a" style="left:474px;top:1166px;" width="14" height="16" viewBox="0 0 14 16"><path d="M9.5 3.5 V12.5 L4.5 8 Z" fill="#a3a3a3"/></svg>
<div class="a" style="left:1496px;top:140px;width:25px;height:1046px;background:linear-gradient(to right, rgba(0,0,0,0), rgba(0,0,0,0.03) 50%, rgba(0,0,0,0.13))"></div>
<div class="a" style="left:1521px;top:140px;width:479px;height:1046px;background:#fff;border-left:2.5px solid #ebebeb"></div>
<div class="a" style="left:1523px;top:140px;width:477px;height:186px;background:#f9f9f9;box-shadow:0 3px 6px rgba(0,0,0,0.06)"></div>
<div class="t" style="left:1550.0px;top:170.0px;font-size:23px;color:#333;font-weight:400;letter-spacing:0.389px;-webkit-text-stroke:0.45px #333;">Filter deals by</div>
<div class="a" style="left:1550px;top:203px;width:423px;height:43.5px;background:#fff;border:1px solid #e3e3e3;border-radius:2px"></div>
<div class="t" style="left:1564.0px;top:216.1px;font-size:15.8px;color:#c7c7c7;font-weight:400;letter-spacing:0.312px;">Add a field to filter</div>
<div class="t" style="left:1549.5px;top:279.5px;font-size:16px;color:#9e9e9e;font-weight:400;letter-spacing:-0.007px;">2 filters applied</div>
<div class="a" style="left:1877.5px;top:264.5px;width:95px;height:43px;background:#f3f3f3;border:1px solid #ebebeb;border-radius:3px"></div>
<div class="t" style="left:1905.5px;top:279.5px;font-size:16px;color:#c3c3c3;font-weight:400;letter-spacing:-0.005px;">Apply</div>
<div class="t" style="left:1550.0px;top:343.8px;font-size:16.5px;color:#333;font-weight:400;letter-spacing:-0.115px;-webkit-text-stroke:0.45px #333;">Deal pipeline</div>
<div class="a" style="left:1550px;top:366px;width:423px;height:43.6px;background:#fff;border:1px solid #e3e3e3;border-radius:3px"></div>
<div class="t" style="left:1564.2px;top:379.9px;font-size:16px;color:#444;font-weight:400;letter-spacing:-0.317px;">Inside sales Pipeline</div>
<svg class="a" style="left:1945px;top:383px;" width="18" height="12" viewBox="0 0 18 12"><path d="M2.8 2.6 H14.4 L8.6 9.8 Z" fill="#222"/></svg>
<div class="a" style="left:1523px;top:430.5px;width:477px;height:1px;background:#f0f0f0"></div>
<div class="t" style="left:1550.0px;top:452.0px;font-size:16.5px;color:#333;font-weight:400;letter-spacing:-0.388px;-webkit-text-stroke:0.45px #333;">Deal stage</div>
<div class="a" style="left:1550px;top:473.3px;width:423px;height:43.7px;background:#fff;border:1px solid #e3e3e3;border-radius:3px"></div>
<div class="t" style="left:1564.2px;top:488.5px;font-size:16px;color:#444;font-weight:400;letter-spacing:-0.074px;">contains</div>
<svg class="a" style="left:1940px;top:492px;" width="18" height="12" viewBox="0 0 18 12"><path d="M2.8 2.6 H14.4 L8.6 9.8 Z" fill="#222"/></svg>
<div class="a" style="left:1550px;top:525.6px;width:423px;height:78px;background:#fff;border:1px solid #e3e3e3;border-radius:3px;overflow:hidden"></div>
<div class="a" style="left:1950.5px;top:526.6px;width:21.5px;height:76px;background:#f1f1f1"></div>
<div class="a" style="left:1952.2px;top:548px;width:18px;height:17.5px;background:#c1c1c1"></div>
<svg class="a" style="left:1951px;top:530px;" width="20" height="70" viewBox="0 0 20 70"><path d="M5.8 10.5 L10.4 5.6 L15 10.5 Z" fill="#a8a8a8"/><path d="M5.5 58.3 L10.4 63.5 L15.3 58.3 Z" fill="#505050"/></svg>
<div class="a" style="left:1564.2px;top:530.5px;width:62.59999999999991px;height:25px;background:#e0e3e7;border-radius:3px"></div>
<div class="t" style="left:1569.7px;top:536.1px;font-size:16.2px;color:#444;font-weight:400;letter-spacing:0.029px;">New</div>
<svg class="a" style="left:1609.8px;top:538.0px;" width="12" height="12" viewBox="0 0 12 12"><path d="M0.8 0.8 L11 11 M11 0.8 L0.8 11" stroke="#222" stroke-width="1.5"/></svg>
<div class="a" style="left:1634.3px;top:530.5px;width:101.70000000000005px;height:25px;background:#e0e3e7;border-radius:3px"></div>
<div class="t" style="left:1639.8px;top:536.1px;font-size:16.2px;color:#444;font-weight:400;letter-spacing:-0.304px;">Follow-up</div>
<svg class="a" style="left:1719px;top:538.0px;" width="12" height="12" viewBox="0 0 12 12"><path d="M0.8 0.8 L11 11 M11 0.8 L0.8 11" stroke="#222" stroke-width="1.5"/></svg>
<div class="a" style="left:1743px;top:530.5px;width:124.20000000000005px;height:25px;background:#e0e3e7;border-radius:3px"></div>
<div class="t" style="left:1748.5px;top:536.1px;font-size:16.2px;color:#444;font-weight:400;letter-spacing:-0.246px;">Under review</div>
<svg class="a" style="left:1850.2px;top:538.0px;" width="12" height="12" viewBox="0 0 12 12"><path d="M0.8 0.8 L11 11 M11 0.8 L0.8 11" stroke="#222" stroke-width="1.5"/></svg>
<div class="a" style="left:1564.2px;top:564.2px;width:73.39999999999986px;height:25px;background:#e0e3e7;border-radius:3px"></div>
<div class="t" style="left:1569.7px;top:569.8px;font-size:16.2px;color:#444;font-weight:400;letter-spacing:-0.430px;">Demo</div>
<svg class="a" style="left:1620.6px;top:571.7px;" width="12" height="12" viewBox="0 0 12 12"><path d="M0.8 0.8 L11 11 M11 0.8 L0.8 11" stroke="#222" stroke-width="1.5"/></svg>
<div class="a" style="left:1645.7px;top:564.2px;width:114.59999999999991px;height:25px;background:#e0e3e7;border-radius:3px"></div>
<div class="t" style="left:1651.2px;top:569.8px;font-size:16.2px;color:#444;font-weight:400;letter-spacing:0.139px;">Negotiation</div>
<svg class="a" style="left:1743.3px;top:571.7px;" width="12" height="12" viewBox="0 0 12 12"><path d="M0.8 0.8 L11 11 M11 0.8 L0.8 11" stroke="#222" stroke-width="1.5"/></svg>
<div class="a" style="left:1767.9px;top:564.2px;width:136.79999999999995px;height:25px;background:#e0e3e7;border-radius:3px"></div>
<div class="t" style="left:1773.4px;top:569.8px;font-size:16.2px;color:#444;font-weight:400;letter-spacing:-0.413px;">Needs Analysis</div>
<svg class="a" style="left:1887.7px;top:571.7px;" width="12" height="12" viewBox="0 0 12 12"><path d="M0.8 0.8 L11 11 M11 0.8 L0.8 11" stroke="#222" stroke-width="1.5"/></svg>
<div class="a" style="left:1564.2px;top:598.5px;width:120px;height:4px;background:#e0e3e7;border-radius:3px 3px 0 0"></div>
<div class="a" style="left:1523px;top:624px;width:477px;height:1px;background:#f0f0f0"></div>
<svg class="a" style="left:1430px;top:980px;" width="80" height="160" viewBox="0 0 80 160">
      <defs><filter id="sh" x="-30%" y="-30%" width="160%" height="160%"><feDropShadow dx="0" dy="1.5" stdDeviation="2" flood-color="#000" flood-opacity="0.18"/></filter></defs>
      <path d="M32 5 H62 a7 7 0 0 1 7 7 V37 A31.7 31.7 0 1 1 37 5 Z" fill="#7f94a7" transform="translate(-0.5,0)" filter="url(#sh)"/>
      <g stroke="#fff" stroke-width="2.2" fill="#fff">
        <line x1="37.3" y1="24.4" x2="25.6" y2="44.5"/>
        <line x1="37.3" y1="24.4" x2="49.5" y2="44.5"/>
        <line x1="25.6" y1="44.5" x2="49.5" y2="44.5"/>
        <circle cx="37.3" cy="24.4" r="2.6"/>
        <circle cx="25.6" cy="44.5" r="2.8"/>
        <circle cx="49.5" cy="44.5" r="2.8"/>
      </g>
      <circle cx="12.7" cy="12.2" r="15.2" fill="#fff"/>
      <circle cx="12.7" cy="12.2" r="13.2" fill="#ef8176"/>
      <circle cx="38" cy="120" r="31.8" fill="#7f94a7" filter="url(#sh)"/></svg>
<svg class="a" style="left:1436px;top:983px;" width="14" height="20" viewBox="0 0 14 20"><path d="M5.4 3.4 H9.2 V16 H6.2 V6.9 L3.4 8 V5.4 Z" fill="#fff"/></svg>
<div class="t" style="left:1459.0px;top:1085.3px;font-size:31px;color:#fff;font-weight:400;-webkit-text-stroke:0.5px #fff;">?</div>
<div class="a" style="left:64px;top:1185px;width:457px;height:1px;background:#b4b4b4"></div>
<div class="a" style="left:521px;top:1185px;width:1479px;height:1px;background:#3a3a3a"></div>
</body></html>
